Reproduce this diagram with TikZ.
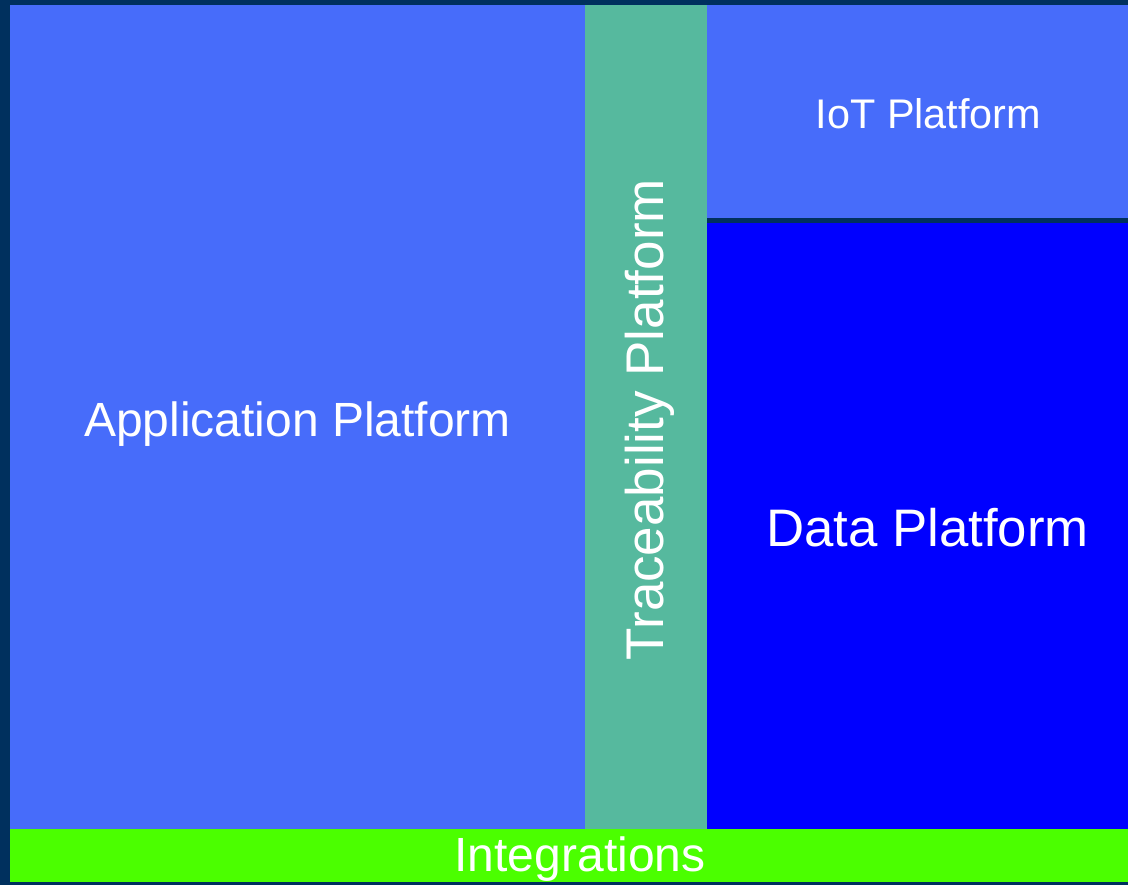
\documentclass[tikz,border=0pt]{standalone}
\usepackage{xcolor}
\usepackage{fontspec}
\setmainfont{Liberation Sans}
\usetikzlibrary{positioning}

\definecolor{navybg}{RGB}{0,48,94}
\definecolor{appblue}{RGB}{71,108,250}
\definecolor{traceteal}{RGB}{86,185,158}
\definecolor{datablue}{RGB}{0,0,255}
\definecolor{intgreen}{RGB}{75,255,0}

\begin{document}
\begin{tikzpicture}[x=0.5pt,y=-0.5pt,
    panel/.style={rectangle, inner sep=0pt, outer sep=0pt},
    caption/.style={text=white, inner sep=0pt}]
    \fill[navybg] (0,0) rectangle (1128,885);
    \useasboundingbox (0,0) rectangle (1128,885);

    % panels
    \node[panel, fill=appblue, anchor=north west, minimum width=287.5pt, minimum height=412pt] (app) at (10,5) {};
    \node[panel, fill=traceteal, right=0pt of app, minimum width=61pt, minimum height=412pt] (trace) {};
    \node[panel, fill=appblue, anchor=north west, minimum width=210.5pt, minimum height=106.5pt] (iot) at (trace.north east) {};
    \node[panel, fill=datablue, below=2.5pt of iot, minimum width=210.5pt, minimum height=303pt] (data) {};
    \node[panel, fill=intgreen, anchor=north west, minimum width=559pt, minimum height=26.5pt] (integ) at (app.south west) {};

    % labels
    \node[caption, font=\fontsize{24}{28}\selectfont, yshift=-3.5pt] (applabel) at (app) {Application Platform};
    \node[caption, xshift=2pt, yshift=-1.25pt, rotate=90, font=\fontsize{26.5}{30}\selectfont] (tracelabel) at (trace) {Traceability Platform};
    \node[caption, font=\fontsize{20.7}{24}\selectfont, xshift=5.5pt, yshift=-1pt] (iotlabel) at (iot) {IoT Platform};
    \node[caption, font=\fontsize{26.4}{30}\selectfont, xshift=5pt, yshift=-1pt] (datalabel) at (data) {Data Platform};
    \node[caption, font=\fontsize{24}{28}\selectfont, xshift=5.5pt, yshift=-2pt] (integlabel) at (integ) {Integrations};
\end{tikzpicture}
\end{document}
